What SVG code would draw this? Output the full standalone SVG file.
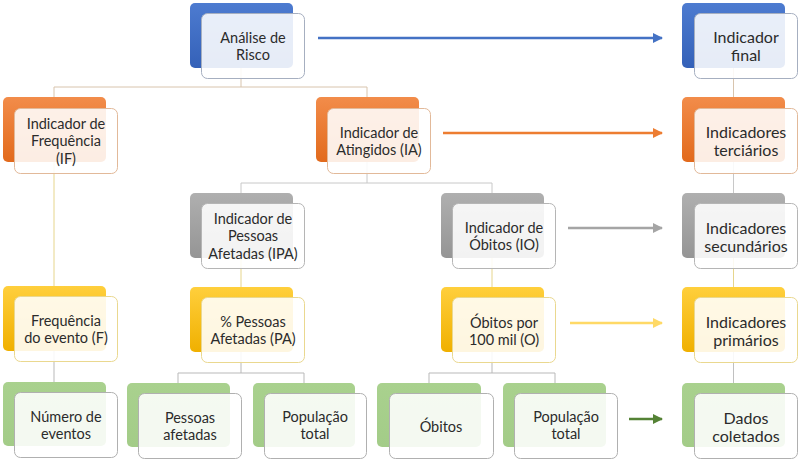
<svg xmlns="http://www.w3.org/2000/svg" width="800" height="465" viewBox="0 0 800 465">
<defs>
<linearGradient id="gB" x1="0" y1="0" x2="0" y2="1"><stop offset="0" stop-color="#4d7bd0"/><stop offset="1" stop-color="#3461b8"/></linearGradient>
<linearGradient id="gO" x1="0" y1="0" x2="0" y2="1"><stop offset="0" stop-color="#f28c4a"/><stop offset="1" stop-color="#e26a1c"/></linearGradient>
<linearGradient id="gG" x1="0" y1="0" x2="0" y2="1"><stop offset="0" stop-color="#afafaf"/><stop offset="1" stop-color="#959595"/></linearGradient>
<linearGradient id="gY" x1="0" y1="0" x2="0" y2="1"><stop offset="0" stop-color="#ffcf3c"/><stop offset="1" stop-color="#f0b000"/></linearGradient>
<linearGradient id="gV" x1="0" y1="0" x2="0" y2="1"><stop offset="0" stop-color="#a9d18e"/><stop offset="1" stop-color="#a3cc88"/></linearGradient>
<marker id="mB" viewBox="0 0 10 10" refX="9" refY="5" markerWidth="4" markerHeight="4" orient="auto"><path d="M0,0 L10,5 L0,10 z" fill="#4472c4"/></marker>
<marker id="mO" viewBox="0 0 10 10" refX="9" refY="5" markerWidth="4" markerHeight="4" orient="auto"><path d="M0,0 L10,5 L0,10 z" fill="#ed7d31"/></marker>
<marker id="mG" viewBox="0 0 10 10" refX="9" refY="5" markerWidth="4" markerHeight="4" orient="auto"><path d="M0,0 L10,5 L0,10 z" fill="#a5a5a5"/></marker>
<marker id="mY" viewBox="0 0 10 10" refX="9" refY="5" markerWidth="4" markerHeight="4" orient="auto"><path d="M0,0 L10,5 L0,10 z" fill="#ffd966"/></marker>
<marker id="mV" viewBox="0 0 10 10" refX="9" refY="5" markerWidth="4" markerHeight="4" orient="auto"><path d="M0,0 L10,5 L0,10 z" fill="#548235"/></marker>
</defs>
<style>
.bk{rx:5;ry:5}
.fr{fill:#ffffff;fill-opacity:0.88;stroke-width:1}
.fB{stroke:#a6afc0}
.fO{stroke:#e2b999}
.fG{stroke:#b5b5b5}
.fY{stroke:#ead88f}
.fV{stroke:#b0b0b0}
text{font-family:Lato,"Open Sans","Liberation Sans",sans-serif;font-size:14.5px;fill:#2b2b2b;text-anchor:middle;dominant-baseline:central}
.big{font-size:16px}
.cn{fill:none;stroke-width:1}
</style>
<g id="connectors">
<path class="cn" stroke="#d8c4ad" d="M241,67 V87 M54,87 H367 M54,87 V97 M367,87 V97"/>
<path class="cn" stroke="#c8c8c8" d="M367,162 V183 M241,183 H492 M241,183 V193 M492,183 V193"/>
<path class="cn" stroke="#e6d58c" d="M54,162 V286 M241,258 V287 M492,258 V287"/>
<path class="cn" stroke="#b9b9b9" d="M54,351 V382 M241,352 V373 M178,373 H304 M178,373 V383 M304,373 V383 M492,352 V373 M429,373 H555 M429,373 V383 M555,373 V383"/>
<path class="cn" stroke="#d8c4ad" d="M733.5,68 V97"/>
<path class="cn" stroke="#c8c8c8" d="M733.5,162 V193"/>
<path class="cn" stroke="#e6d58c" d="M733.5,258 V287"/>
<path class="cn" stroke="#c0c0c0" d="M733.5,352 V383"/>
<line x1="318" y1="38" x2="662" y2="38" stroke="#4472c4" stroke-width="2.5" marker-end="url(#mB)"/>
<line x1="443" y1="133" x2="662" y2="133" stroke="#ed7d31" stroke-width="2.5" marker-end="url(#mO)"/>
<line x1="568" y1="228" x2="662" y2="228" stroke="#a5a5a5" stroke-width="2.5" marker-end="url(#mG)"/>
<line x1="570" y1="323" x2="662" y2="323" stroke="#ffd966" stroke-width="2.5" marker-end="url(#mY)"/>
<line x1="629" y1="419" x2="662" y2="419" stroke="#548235" stroke-width="2.5" marker-end="url(#mV)"/>
</g>
<g id="analise-risco">
<rect class="bk" x="190" y="3" width="103" height="65" fill="url(#gB)"/>
<rect class="fr fB" x="201.5" y="13.5" width="103" height="65" rx="6"/>
<text x="253" y="37">Análise de</text><text x="253" y="54">Risco</text>
</g>
<g id="ind-frequencia">
<rect class="bk" x="3" y="97" width="103" height="65" fill="url(#gO)"/>
<rect class="fr fO" x="14.5" y="108.5" width="103" height="65" rx="6"/>
<text x="66" y="123">Indicador de</text><text x="66" y="140.5">Frequência</text><text x="66" y="158">(IF)</text>
</g>
<g id="ind-atingidos">
<rect class="bk" x="316" y="97" width="103" height="65" fill="url(#gO)"/>
<rect class="fr fO" x="327.5" y="108.5" width="103" height="65" rx="6"/>
<text x="379" y="132">Indicador de</text><text x="379" y="149">Atingidos (IA)</text>
</g>
<g id="ind-pessoas-afetadas">
<rect class="bk" x="190" y="193" width="103" height="65" fill="url(#gG)"/>
<rect class="fr fG" x="201.5" y="203.5" width="103" height="65" rx="6"/>
<text x="253" y="218">Indicador de</text><text x="253" y="235.5">Pessoas</text><text x="253" y="253">Afetadas (IPA)</text>
</g>
<g id="ind-obitos">
<rect class="bk" x="441" y="193" width="103" height="65" fill="url(#gG)"/>
<rect class="fr fG" x="452.5" y="203.5" width="103" height="65" rx="6"/>
<text x="504" y="227">Indicador de</text><text x="504" y="244">Óbitos (IO)</text>
</g>
<g id="frequencia-evento">
<rect class="bk" x="3" y="286" width="103" height="65" fill="url(#gY)"/>
<rect class="fr fY" x="14.5" y="296.5" width="103" height="65" rx="6"/>
<text x="66" y="320">Frequência</text><text x="66" y="337.5">do evento (F)</text>
</g>
<g id="pessoas-afetadas-pct">
<rect class="bk" x="190" y="287" width="103" height="65" fill="url(#gY)"/>
<rect class="fr fY" x="201.5" y="297.5" width="103" height="65" rx="6"/>
<text x="253" y="321">% Pessoas</text><text x="253" y="338.5">Afetadas (PA)</text>
</g>
<g id="obitos-100mil">
<rect class="bk" x="441" y="287" width="103" height="65" fill="url(#gY)"/>
<rect class="fr fY" x="452.5" y="297.5" width="103" height="65" rx="6"/>
<text x="504" y="322">Óbitos por</text><text x="504" y="339.5">100 mil (O)</text>
</g>
<g id="numero-eventos">
<rect class="bk" x="3" y="382" width="103" height="64" fill="url(#gV)"/>
<rect class="fr fV" x="14.5" y="392.5" width="103" height="65" rx="6"/>
<text x="66" y="416">Número de</text><text x="66" y="433.5">eventos</text>
</g>
<g id="pessoas-afetadas">
<rect class="bk" x="127" y="383" width="103" height="64" fill="url(#gV)"/>
<rect class="fr fV" x="138.5" y="393.5" width="103" height="65" rx="6"/>
<text x="190" y="417">Pessoas</text><text x="190" y="434.5">afetadas</text>
</g>
<g id="populacao-total-1">
<rect class="bk" x="253" y="383" width="102" height="64" fill="url(#gV)"/>
<rect class="fr fV" x="264.5" y="393.5" width="102" height="65" rx="6"/>
<text x="315" y="416">População</text><text x="315" y="433.5">total</text>
</g>
<g id="obitos">
<rect class="bk" x="377" y="383" width="104" height="64" fill="url(#gV)"/>
<rect class="fr fV" x="389.5" y="393.5" width="104" height="65" rx="6"/>
<text x="441" y="426">Óbitos</text>
</g>
<g id="populacao-total-2">
<rect class="bk" x="503" y="383" width="103" height="64" fill="url(#gV)"/>
<rect class="fr fV" x="514.5" y="393.5" width="103" height="65" rx="6"/>
<text x="566" y="416">População</text><text x="566" y="433.5">total</text>
</g>
<g id="indicador-final">
<rect class="bk" x="682" y="3" width="103" height="65" fill="url(#gB)"/>
<rect class="fr fB" x="694.5" y="13.5" width="103" height="65" rx="6"/>
<text class="big" x="746" y="36">Indicador</text><text class="big" x="746" y="54">final</text>
</g>
<g id="indicadores-terciarios">
<rect class="bk" x="682" y="97" width="103" height="65" fill="url(#gO)"/>
<rect class="fr fO" x="694.5" y="108.5" width="103" height="65" rx="6"/>
<text class="big" x="746" y="131">Indicadores</text><text class="big" x="746" y="149.5">terciários</text>
</g>
<g id="indicadores-secundarios">
<rect class="bk" x="682" y="193" width="103" height="65" fill="url(#gG)"/>
<rect class="fr fG" x="694.5" y="203.5" width="103" height="65" rx="6"/>
<text class="big" x="746" y="227">Indicadores</text><text class="big" x="746" y="245.5">secundários</text>
</g>
<g id="indicadores-primarios">
<rect class="bk" x="682" y="287" width="103" height="65" fill="url(#gY)"/>
<rect class="fr fY" x="694.5" y="297.5" width="103" height="65" rx="6"/>
<text class="big" x="746" y="321">Indicadores</text><text class="big" x="746" y="339.5">primários</text>
</g>
<g id="dados-coletados">
<rect class="bk" x="682" y="383" width="103" height="64" fill="url(#gV)"/>
<rect class="fr fV" x="694.5" y="393.5" width="103" height="65" rx="6"/>
<text class="big" x="746" y="417">Dados</text><text class="big" x="746" y="435.5">coletados</text>
</g>
</svg>
